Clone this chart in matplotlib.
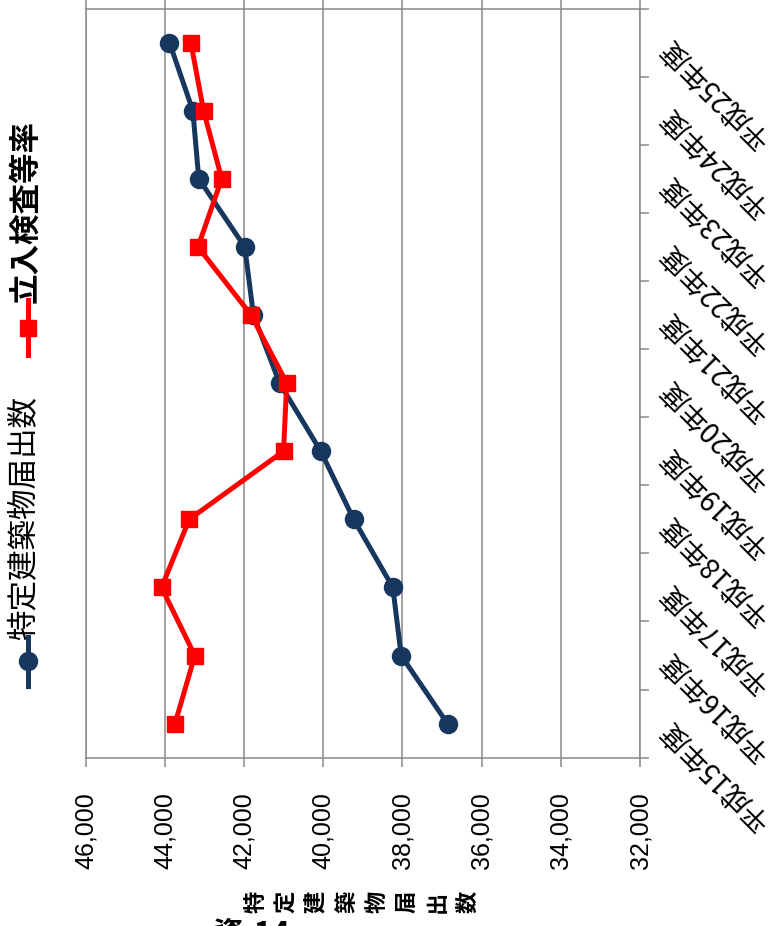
import matplotlib
matplotlib.use("Agg")
import matplotlib.pyplot as plt
from matplotlib.lines import Line2D
import numpy as np

plt.rcParams['font.family'] = ['Noto Sans CJK JP', 'DejaVu Sans']

# data
years = ["平成15年度", "平成16年度", "平成17年度", "平成18年度", "平成19年度", "平成20年度",
         "平成21年度", "平成22年度", "平成23年度", "平成24年度", "平成25年度"]
todokede = [36860, 38030, 38240, 39230, 40060, 41100, 41760, 41980, 43140, 43290, 43880]
tachiiri = [58.7, 56.2, 60.4, 56.9, 45.0, 44.6, 49.1, 55.8, 52.8, 55.1, 56.7]   # %
xticks = [46000, 44000, 42000, 40000, 38000, 36000, 34000, 32000]

blue = '#17375E'
red = '#FF0000'
gray = '#898989'

W, H = 779, 926
def fx(px):
    return px / W
def fy(py):
    return 1 - py / H

fig = plt.figure(figsize=(W / 100, H / 100), dpi=100)
ax = fig.add_axes([fx(85.5), fy(757.7), fx(640) - fx(85.5), fy(8.5) - fy(757.7)])

pos = np.arange(len(years))
ax.plot(todokede, pos, color=blue, lw=3.6, marker='o', ms=13, zorder=3)

ax.set_xlim(46000, 32000)
ax.set_ylim(-0.5, len(years) - 0.5)
ax.set_xticks(xticks)
ax.set_xticklabels([f"{v:,}" for v in xticks], rotation=90, fontsize=18,
                   family='Liberation Sans')
ax.grid(axis='x', color=gray, lw=1.1)
ax.set_axisbelow(True)
ax.tick_params(axis='x', direction='out', length=6.5, width=1.1, color=gray,
               pad=18.5, top=True)

ax.yaxis.tick_right()
ax.set_yticks(np.arange(-0.5, len(years), 1))
ax.set_yticklabels([])
ax.set_yticks(pos, labels=years, minor=True, rotation=135, ha='right', va='center',
              rotation_mode='anchor', fontsize=20)
ax.tick_params(axis='y', which='major', direction='out', length=6.5, width=1.1, color=gray)
ax.tick_params(axis='y', which='minor', length=0, pad=18)
for s in ax.spines.values():
    s.set_color(gray)
    s.set_linewidth(1.1)

# secondary axis for the rate (labels are outside the picture)
ax2 = ax.twiny()
ax2.plot(tachiiri, pos, color=red, lw=3.6, marker='s', ms=12, zorder=4)
ax2.set_xlim(70, 0)
ax2.set_xticks(np.arange(0, 71, 10))
ax2.set_xticklabels([])
ax2.tick_params(axis='x', direction='out', length=9, width=1.1, color=gray)
for s in ax2.spines.values():
    s.set_visible(False)

# legend (turned like the rest of the chart)
fig.add_artist(Line2D([fx(28), fx(28)], [fy(686), fy(637)], color=blue, lw=3.6,
                      transform=fig.transFigure))
fig.add_artist(Line2D([fx(28)], [fy(661)], color=blue, marker='o', ms=13,
                      transform=fig.transFigure))
fig.add_artist(Line2D([fx(28), fx(28)], [fy(355), fy(300)], color=red, lw=3.6,
                      transform=fig.transFigure))
fig.add_artist(Line2D([fx(28)], [fy(328)], color=red, marker='s', ms=12,
                      transform=fig.transFigure))
fig.text(fx(25), fy(640), "特定建築物届出数", rotation=90, ha='center', va='bottom', fontsize=22)
fig.text(fx(25), fy(303), "立入検査等率", rotation=90, ha='center', va='bottom', fontsize=22,
         weight='bold')

# axis title
fig.text(fx(362), fy(902), "\n".join("特定建築物届出数"), rotation=90, ha='center', va='center',
         fontsize=16, weight='bold', linespacing=1.4)

fig.text(fx(213), fy(919), "資-14", ha='left', va='top', fontsize=22, weight='bold')

fig.savefig("out.png", dpi=100)
